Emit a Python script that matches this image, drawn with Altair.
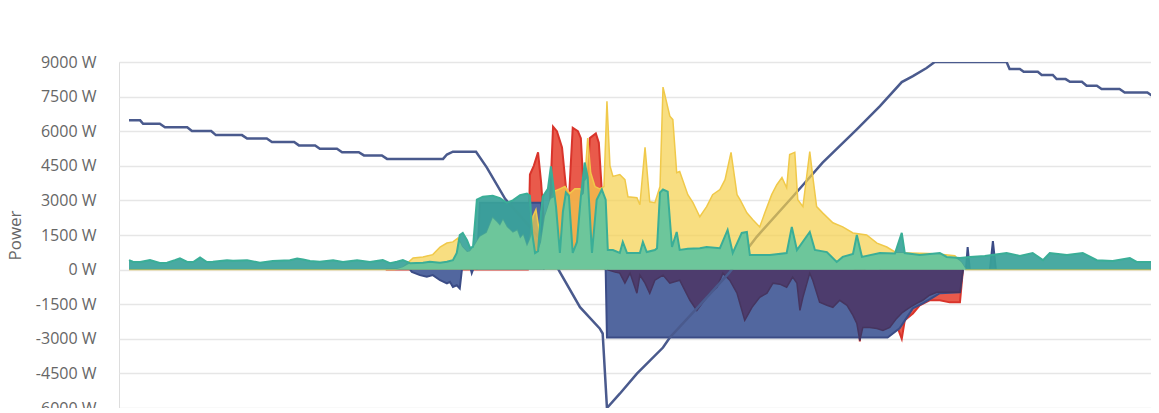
import altair as alt
import pandas as pd
import numpy as np

# ---- data (hours of day, watts) ----
SOC_T = [0, 0.26, 0.33, 0.72, 0.84, 1.36, 1.47, 1.92, 2.03, 2.64, 2.76, 3.22, 3.34, 3.86,
         3.97, 4.35, 4.46, 4.86, 4.98, 5.37, 5.49, 5.91, 6.03, 7.34, 7.43, 7.57, 8.11, 8.36,
         8.79, 9.37, 9.72, 10.07, 10.54, 11.0, 11.07, 11.17, 11.47, 11.87, 12.48, 12.64, 13.27,
         14.04, 14.67, 15.51, 16.21, 17.01, 17.55, 18.06, 18.32, 18.64, 18.83, 20.51, 20.58,
         20.82, 20.91, 21.24, 21.33, 21.59, 21.68, 21.89, 21.99, 22.27, 22.38, 22.62, 22.73,
         23.15, 23.27, 23.8, 23.93]
SOC_W = [6470, 6470, 6320, 6320, 6170, 6170, 6010, 6010, 5830, 5830, 5680, 5680, 5530, 5530,
         5385, 5385, 5240, 5240, 5090, 5090, 4950, 4950, 4800, 4800, 4990, 5110, 5110, 4430,
         3070, 1850, 1070, -110, -1630, -2550, -2770, -6000, -5380, -4513, -3379, -2943, -1679,
         -109, 1420, 3160, 4640, 6080, 7085, 8130, 8390, 8740, 9000, 9000, 8700,
         8700, 8580, 8580, 8440, 8440, 8260, 8260, 8145, 8145, 7970, 7970, 7830,
         7830, 7680, 7680, 7510]

LOAD_T = [0.00, 0.09, 0.26, 0.49, 0.72, 0.89, 1.07, 1.19, 1.36, 1.50, 1.66, 1.82, 1.96, 2.29,
          2.43, 2.76, 3.06, 3.36, 3.76, 3.93, 4.07, 4.23, 4.46, 4.77, 5.00, 5.33, 5.63, 5.93,
          6.10, 6.26, 6.40, 6.57, 6.87, 7.03, 7.27, 7.43, 7.57, 7.66, 7.73, 7.80, 7.90, 7.97,
          8.04, 8.13, 8.27, 8.50, 8.67, 8.83, 8.97, 9.14, 9.30, 9.37, 9.42, 9.49, 9.56, 9.63,
          9.67, 9.79, 9.86, 9.98, 10.07, 10.14, 10.21, 10.28, 10.37, 10.47, 10.56, 10.65, 10.72,
          10.82, 10.93, 11.05, 11.14, 11.19, 11.31, 11.47, 11.54, 11.64, 11.94, 12.01, 12.10,
          12.29, 12.34, 12.41, 12.48, 12.59, 12.69, 12.80, 12.87, 13.06, 13.34, 13.50, 13.81,
          13.99, 14.11, 14.32, 14.44, 14.51, 14.98, 15.37, 15.49, 15.61, 15.91, 16.03, 16.31,
          16.54, 16.68, 16.92, 17.01, 17.13, 17.55, 17.90, 18.06, 18.13, 18.48, 18.95, 19.11,
          19.42, 19.65, 20.00, 20.51, 20.82, 21.12, 21.36, 21.52, 21.92, 22.29, 22.62, 22.99,
          23.39, 23.55, 23.97]
LOAD_W = [410, 340, 330, 410, 290, 300, 410, 490, 330, 330, 530, 330, 340, 410,
          380, 410, 300, 370, 410, 480, 440, 370, 340, 410, 330, 410, 330, 410,
          280, 340, 410, 280, 300, 340, 300, 340, 410, 720, 1500, 1590, 1280, 940,
          990, 3030, 3160, 3200, 3100, 2900, 3000, 3230, 3300, 3200, 1600, 720, 800, 2500,
          3160, 3500, 4470, 2720, 720, 2500, 3340, 3200, 720, 1200, 3160, 4640, 4000,
          720, 3030, 3470, 3030, 850, 850, 720, 1200, 720, 720, 1200, 760,
          850, 930, 3340, 3470, 3380, 980, 1630, 850, 900, 930, 980, 930,
          1720, 720, 1590, 1630, 630, 630, 720, 1850, 850, 1630, 850, 760,
          330, 550, 680, 1500, 550, 720, 700, 1590, 720, 630, 720, 550,
          500, 550, 590, 720, 590, 720, 410, 720, 630, 720, 410, 370,
          500, 330, 330]

SOLAR_T = [0, 6.21, 6.40, 6.64, 6.87, 7.10, 7.27, 7.43, 7.57, 7.69, 7.78, 7.90, 7.97, 8.08,
           8.20, 8.36, 8.50, 8.60, 8.67, 8.74, 8.83, 8.97, 9.07, 9.14, 9.21, 9.30, 9.37, 9.44,
           9.51, 9.56, 9.63, 9.72, 9.84, 9.95, 10.07, 10.19, 10.30, 10.42, 10.54, 10.63, 10.72,
           10.79, 10.89, 11.00, 11.10, 11.17, 11.24, 11.31, 11.47, 11.59, 11.66, 11.87, 11.94,
           12.06, 12.17, 12.29, 12.41, 12.48, 12.64, 12.71, 12.80, 12.87, 13.06, 13.18, 13.34,
           13.50, 13.64, 13.81, 13.93, 14.07, 14.21, 14.28, 14.44, 14.58, 14.74, 14.86, 15.02,
           15.14, 15.26, 15.37, 15.44, 15.56, 15.63, 15.75, 15.91, 15.98, 16.07, 16.21, 16.45,
           16.68, 16.92, 17.24, 17.48, 17.71, 17.94, 18.25, 18.71, 19.02, 19.30, 19.46, 19.56, 24]
SOLAR_W = [0, 0, 100, 500, 550, 650, 980, 1150, 1200, 1370, 1000, 760, 800, 1070,
           1420, 1600, 2240, 2050, 1900, 2150, 1850, 1600, 1700, 1350, 1500, 1000, 1300, 2300,
           2600, 2000, 1200, 2300, 3000, 3400, 3500, 3600, 3300, 3500, 3500, 3300, 5700,
           4200, 3600, 3500, 3600, 7300, 4500, 4040, 4120, 3900, 3160, 3120, 2810,
           5300, 2940, 2900, 3600, 7910, 6650, 6500, 4200, 4250, 3250, 2900, 2290,
           2730, 3250, 3470, 3900, 5080, 3250, 3030, 2460, 2160, 1850, 2460, 3250,
           3680, 3990, 3550, 4990, 5080, 3030, 2730, 5120, 4040, 2730, 2460, 2030,
           1850, 1590, 1500, 1150, 980, 720, 720, 700, 650, 600, 300, 0, 0]

# None separates pieces of the same series
RED_T = [6.0, 9.32, 9.37, 9.46, 9.56, 9.63, 9.70, 9.79, 9.84, 9.91, 10.00, 10.12, 10.21, 10.28,
         10.37, 10.49, 10.56, 10.63, 10.70, 10.77, 10.91, 10.98, 11.05, 11.12, None,
         16.96, 17.08, 17.20, None,
         17.55, 17.73, 17.90, 18.06, 18.13, 18.32, 18.48, 18.71, 18.95, 19.18, 19.42, 19.49]
RED_W = [0, 0, 4120, 4500, 5080, 3800, 2000, 2000, 3000, 6200, 6000, 5300, 3600, 3000,
         6150, 6000, 5700, 3300, 3200, 5700, 5900, 5500, 3400, 0, None,
         0, -3117, 0, None,
         0, -2500, -2200, -3000, -2200, -1900, -1550, -1330, -1330, -1420, -1420, 0]

BATT_T = [6.57, 6.61, 6.80, 6.96, 7.10, 7.27, 7.43, 7.50, 7.57, 7.66, 7.73, 7.78, None,
          7.99, 8.01, 8.04, None,
          8.13, 8.20, 9.63, 9.70, None,
          11.14, 11.17, 17.73, 18.01, 18.32, 18.55, 18.79, 18.95, 19.42, 19.49, None,
          19.56, 19.60, 19.65, None,
          20.12, 20.19, 20.26]
BATT_W = [0, -100, -240, -310, -240, -460, -600, -530, -750, -680, -820, 0, None,
          0, -150, 0, None,
          0, 2900, 2900, 0, None,
          0, -2943, -2943, -2550, -1680, -1460, -1200, -1020, -980, 0, None,
          0, 980, 0, None,
          0, 1240, 0]

EXPORT_T = [11.17, 11.36, 11.47, 11.59, 11.71, 11.87, 11.94, 12.06, 12.17, 12.29, 12.48, 12.64,
            12.87, 13.11, 13.27, 13.41, 13.57, 13.74, 13.88, 14.04, 14.21, 14.39, 14.56, 14.74,
            14.91, 15.05, 15.21, 15.37, 15.51, 15.61, 15.68, 15.75, 15.91, 15.98, 16.14, 16.31,
            16.45, 16.61, 16.78, 16.92, 17.01, 17.08, 17.15, 17.31, 17.48, 17.62, 17.78, 17.94,
            18.08, 18.25, 18.41, 18.55, 18.71, 18.88, 19.42, 19.49]
EXPORT_W = [0, -109, -153, -589, -153, -1025, -240, -589, -1025, -458, -240, -589,
            -458, -1330, -1766, -1417, -1025, -763, -153, -458, -1025, -2202, -1635, -1199,
            -1025, -589, -632, -763, -327, -589, -1766, -1199, -153, -458, -1417, -1548,
            -1635, -1330, -1548, -1984, -2333, -3074, -2507, -2507, -2551, -2638, -2507, -2115,
            -1853, -1635, -1461, -1330, -1112, -981, -981, 0]

Y_TICKS = [-6000, -4500, -3000, -1500, 0, 1500, 3000, 4500, 6000, 7500, 9000]
X_TICKS = [0, 4, 8, 12, 16, 20, 24]


def frame(ts, ws, name):
    rows, seg = [], 0
    for t, w in zip(ts, ws):
        if t is None:
            seg += 1
            continue
        rows.append({"t": t, "w": w, "z": 0, "seg": f"{name}{seg}"})
    return pd.DataFrame(rows)


soc = frame(SOC_T, SOC_W, "soc")
load = frame(LOAD_T, LOAD_W, "load")
solar = frame(SOLAR_T, SOLAR_W, "solar")
red = frame(RED_T, RED_W, "red")
batt = frame(BATT_T, BATT_W, "batt")
export = frame(EXPORT_T, EXPORT_W, "exp")

# self-consumed part: the lower of load and solar
tt = np.unique(np.concatenate([load["t"].values, solar["t"].values]))
lv = np.interp(tt, load["t"].values, load["w"].values)
sv = np.interp(tt, solar["t"].values, solar["w"].values, left=0, right=0)
selfc = pd.DataFrame({"t": tt, "w": np.minimum(lv, sv), "z": 0, "seg": "self"})

xs = alt.Scale(domain=[-0.234, 23.885], nice=False, zero=False)
ys = alt.Scale(domain=[-6000, 9000], nice=False, zero=False)
X = alt.X("t:Q", scale=xs, axis=alt.Axis(values=X_TICKS, labels=False, ticks=True, tickSize=10,
                                         tickColor="#ccd6eb", domainColor="#ccd6eb", grid=False,
                                         title=None, tickWidth=1, domainWidth=1))
Y = alt.Y("w:Q", scale=ys, axis=alt.Axis(values=Y_TICKS, labelExpr="toString(datum.value) + ' W'",
                                         title="Power", grid=True, gridColor="#e6e6e6", gridWidth=1.5,
                                         domain=False, ticks=False, labelPadding=23,
                                         labelFont="Open Sans", labelFontSize=16, labelColor="#666666",
                                         titleFont="Open Sans", titleFontSize=17, titleFontWeight="normal",
                                         titleColor="#666666", titleX=-99, titleY=173, titleAngle=270,
                                         titleAlign="center", titleBaseline="alphabetic"))
Y2 = alt.Y2("z:Q")


def area(df, fill, opacity, stroke=None, sw=2):
    kw = {}
    if stroke:
        kw["line"] = {"color": stroke, "strokeWidth": sw}
    return alt.Chart(df).mark_area(color=fill, opacity=opacity, interpolate="linear", clip=True,
                                   **kw).encode(x=X, y=Y, y2=Y2, detail="seg:N")


red_l = area(red, "#e74c3c", 0.92, "#d9342b", 2)
batt_l = area(batt, "#52679f", 1, "#3b4c86", 2)
exp_l = area(export, "#4d3c6d", 1, "#46355f", 1.5)
soc_l = alt.Chart(soc).mark_line(color="#4a5a8d", strokeWidth=2.5, clip=True).encode(x=X, y=Y)
solar_l = area(solar, "#f5d04c", 0.7, "#f0c94a", 1.5)
load_l = area(load, "#3aa39a", 0.92)
self_l = area(selfc, "#6dc69b", 1)
load_line = alt.Chart(load).mark_line(color="#3aae97", strokeWidth=2, clip=True).encode(x=X, y=Y)

chart = alt.layer(red_l, batt_l, exp_l, soc_l, solar_l, load_l, self_l, load_line).properties(
    width=1032, height=346,
    autosize=alt.AutoSizeParams(type="none"),
    padding={"left": 111, "top": 54, "right": 0, "bottom": 0},
).configure_view(stroke=None).configure(background="white")

chart.save("out.html", embed_options={"renderer": "svg", "actions": False})
